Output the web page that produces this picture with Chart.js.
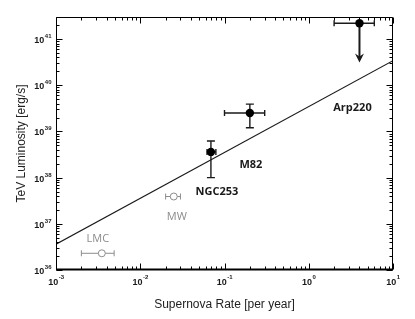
<!DOCTYPE html>
<html>
<head>
<meta charset="utf-8">
<script src="https://cdn.jsdelivr.net/npm/chart.js@4/dist/chart.umd.min.js"></script>
<style>
  html, body { margin: 0; padding: 0; background: #fff; }
  canvas { display: block; }
</style>
</head>
<body>
<canvas id="chart" width="415" height="319"></canvas>
<script>
// ── data ─────────────────────────────────────────
const sources   = ['Arp220', 'M82', 'NGC253', 'MW', 'LMC'];
const snRate    = [4.0, 0.20, 0.069, 0.025, 0.0035];
const snRateLo  = [2.0, 0.10, 0.062, 0.020, 0.0020];
const snRateHi  = [6.0, 0.30, 0.079, 0.030, 0.0049];
const tevLum    = [2.2e41, 2.5e39, 3.6e38, 3.9e37, 2.3e36];
const tevLumLo  = [3.1e40, 1.2e39, 1.0e38, null, null];   // Arp220: upper-limit arrow tip
const tevLumHi  = [null, 3.9e39, 6.2e38, null, null];
const upperLim  = [true, false, false, false, false];
const detected  = [true, true, true, false, false];

const fitRate = [1e-3, 10];
const fitLum  = [3.6e36, 3.4e40];

const xDecades = [-3, -2, -1, 0, 1];
const yDecades = [36, 37, 38, 39, 40, 41];

// ── styles ───────────────────────────────────────
const INK = '#1a1a1a';
const GREY = '#8c8c8c';
// label centre relative to its marker, in pixels
const labelOffset = {
  Arp220: [-7, 85], M82: [1, 52], NGC253: [6, 40], MW: [3, 20], LMC: [-4, -14]
};

const filled = [], open = [];
sources.forEach((s, i) => {
  (detected[i] ? filled : open).push({ x: snRate[i], y: tevLum[i] });
});

// error bars, arrow, labels
const errorBars = {
  id: 'errorBars',
  beforeDatasetsDraw(chart) {
    const { ctx, scales: { x, y } } = chart;
    ctx.save();
    sources.forEach((s, i) => {
      const px = x.getPixelForValue(snRate[i]);
      const py = y.getPixelForValue(tevLum[i]);
      const col = detected[i] ? INK : GREY;
      ctx.strokeStyle = col;
      ctx.fillStyle = col;
      ctx.lineWidth = detected[i] ? 1.4 : 1;
      // horizontal error
      const xl = x.getPixelForValue(snRateLo[i]);
      const xh = x.getPixelForValue(snRateHi[i]);
      ctx.beginPath();
      ctx.moveTo(xl, py); ctx.lineTo(xh, py);
      ctx.moveTo(xl, py - 3); ctx.lineTo(xl, py + 3);
      ctx.moveTo(xh, py - 3); ctx.lineTo(xh, py + 3);
      ctx.stroke();
      if (upperLim[i]) {
        const tip = y.getPixelForValue(tevLumLo[i]);
        ctx.lineWidth = 2;
        ctx.beginPath();
        ctx.moveTo(px, py); ctx.lineTo(px, tip - 4);
        ctx.stroke();
        ctx.beginPath();
        ctx.moveTo(px, tip);
        ctx.lineTo(px - 4.5, tip - 9);
        ctx.lineTo(px, tip - 6);
        ctx.lineTo(px + 4.5, tip - 9);
        ctx.closePath();
        ctx.fill();
      } else if (tevLumLo[i] !== null) {
        const yl = y.getPixelForValue(tevLumLo[i]);
        const yh = y.getPixelForValue(tevLumHi[i]);
        ctx.beginPath();
        ctx.moveTo(px, yl); ctx.lineTo(px, yh);
        ctx.moveTo(px - 4, yl); ctx.lineTo(px + 4, yl);
        ctx.moveTo(px - 4, yh); ctx.lineTo(px + 4, yh);
        ctx.stroke();
      }
    });
    ctx.restore();
  },
  afterDatasetsDraw(chart) {
    const { ctx, scales: { x, y } } = chart;
    ctx.save();
    ctx.textAlign = 'center';
    ctx.textBaseline = 'middle';
    sources.forEach((s, i) => {
      const px = x.getPixelForValue(snRate[i]);
      const py = y.getPixelForValue(tevLum[i]);
      const [dx, dy] = labelOffset[s];
      ctx.font = (detected[i] ? 'bold ' : '') + '11px "Open Sans", sans-serif';
      ctx.fillStyle = detected[i] ? INK : GREY;
      ctx.fillText(s, px + dx, py + dy);
    });
    ctx.restore();
  }
};

// frame with inward ticks on all four sides and 10^n labels
const logFrame = {
  id: 'logFrame',
  afterDraw(chart) {
    const { ctx, chartArea: a, scales: { x, y } } = chart;
    ctx.save();
    ctx.strokeStyle = '#000';
    ctx.lineWidth = 1;
    const L = Math.round(a.left) + 0.5, R = Math.round(a.right) - 0.5;
    const T = Math.round(a.top) + 0.5, B = Math.round(a.bottom) - 0.5;
    ctx.beginPath();
    ctx.moveTo(L, B); ctx.lineTo(L, T); ctx.lineTo(R, T); ctx.lineTo(R, B);
    ctx.stroke();
    ctx.lineWidth = 2;
    ctx.beginPath();
    ctx.moveTo(L - 0.5, B); ctx.lineTo(R + 0.5, B);
    ctx.stroke();

    ctx.lineWidth = 1;
    ctx.beginPath();
    xDecades.forEach(d => {
      for (let k = 1; k <= 9; k++) {
        const v = k * Math.pow(10, d);
        if (v > x.max * 1.0001) break;
        const p = Math.round(x.getPixelForValue(v)) + 0.5;
        const len = k === 1 ? 6 : 3;
        ctx.moveTo(p, B); ctx.lineTo(p, B - len);
        ctx.moveTo(p, T); ctx.lineTo(p, T + len);
      }
    });
    yDecades.forEach(d => {
      for (let k = 1; k <= 9; k++) {
        const v = k * Math.pow(10, d);
        if (v > y.max * 1.0001) break;
        const p = Math.round(y.getPixelForValue(v)) + 0.5;
        const len = k === 1 ? 6 : 3;
        ctx.moveTo(L, p); ctx.lineTo(L + len, p);
        ctx.moveTo(R, p); ctx.lineTo(R - len, p);
      }
    });
    ctx.stroke();

    // tick labels: bold "10" with small exponent
    const base = 'bold 9px "Liberation Sans", Arial, sans-serif';
    const sup = 'bold 6px "Liberation Sans", Arial, sans-serif';
    ctx.fillStyle = INK;
    ctx.textBaseline = 'alphabetic';
    ctx.textAlign = 'left';
    xDecades.forEach(d => {
      const p = x.getPixelForValue(Math.pow(10, d));
      ctx.font = base; const w1 = ctx.measureText('10').width;
      ctx.font = sup; const w2 = ctx.measureText(String(d)).width;
      const sx = p - (w1 + w2) / 2;
      ctx.font = base; ctx.fillText('10', sx, a.bottom + 15);
      ctx.font = sup; ctx.fillText(String(d), sx + w1 + 0.5, a.bottom + 9);
    });
    yDecades.forEach(d => {
      const p = y.getPixelForValue(Math.pow(10, d));
      ctx.font = sup; const w2 = ctx.measureText(String(d)).width;
      ctx.font = base; const w1 = ctx.measureText('10').width;
      const sx = a.left - 5 - w2 - w1;
      ctx.fillText('10', sx, p + 4);
      ctx.font = sup; ctx.fillText(String(d), sx + w1 + 0.5, p - 1);
    });
    ctx.restore();
  }
};

const titleFont = { family: '"Liberation Sans", Arial, sans-serif', size: 12 };

new Chart(document.getElementById('chart'), {
  data: {
    datasets: [
      {
        type: 'line',
        data: fitRate.map((r, i) => ({ x: r, y: fitLum[i] })),
        borderColor: INK,
        borderWidth: 1.2,
        pointRadius: 0,
        fill: false
      },
      {
        type: 'scatter',
        data: filled,
        backgroundColor: '#000',
        borderColor: '#000',
        pointRadius: 4.2,
        borderWidth: 0
      },
      {
        type: 'scatter',
        data: open,
        backgroundColor: '#fff',
        borderColor: GREY,
        pointRadius: 3.5,
        borderWidth: 1
      }
    ]
  },
  options: {
    responsive: false,
    animation: false,
    devicePixelRatio: 1,
    layout: { padding: { top: 17, right: 22, bottom: 0, left: 0 } },
    plugins: { legend: { display: false }, tooltip: { enabled: false } },
    scales: {
      x: {
        type: 'logarithmic',
        min: 1e-3, max: 10,
        grid: { display: false },
        border: { display: false },
        ticks: { display: false },
        title: { display: true, text: 'Supernova Rate [per year]', font: titleFont, color: '#222', padding: { top: 0, bottom: 7 } },
        afterFit: s => { s.height = 49; }
      },
      y: {
        type: 'logarithmic',
        min: 1e36, max: 3e41,
        grid: { display: false },
        border: { display: false },
        ticks: { display: false },
        title: { display: true, text: 'TeV Luminosity [erg/s]', font: titleFont, color: '#222', padding: { top: 14, bottom: 0 } },
        afterFit: s => { s.width = 56; }
      }
    }
  },
  plugins: [errorBars, logFrame]
});
</script>
</body>
</html>
